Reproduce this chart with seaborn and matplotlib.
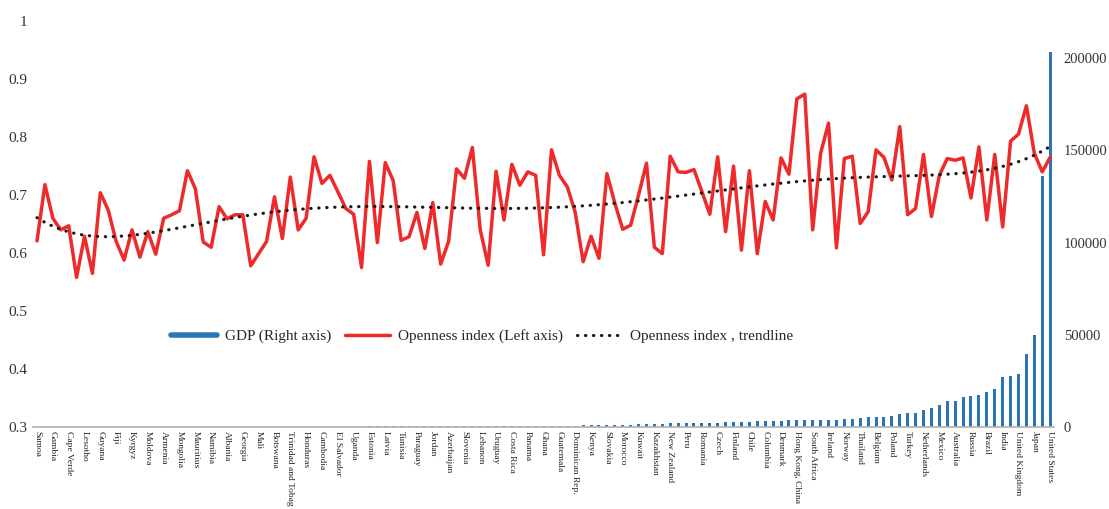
import numpy as np
import pandas as pd
import seaborn as sns
import matplotlib.pyplot as plt
from matplotlib.lines import Line2D
from matplotlib.ticker import FuncFormatter

# tick labels (every second country is labelled on the axis)
labelled = ['Samoa', 'Gambia', 'Cape Verde', 'Lesotho', 'Guyana', 'Fiji', 'Kyrgyz', 'Moldova',
            'Armenia', 'Mongolia', 'Mauritius', 'Namibia', 'Albania', 'Georgia', 'Mali', 'Botswana',
            'Trinidad and Tobag', 'Honduras', 'Cambodia', 'El Salvador', 'Uganda', 'Estonia', 'Latvia',
            'Tunisia', 'Paraguay', 'Jordan', 'Azerbaijan', 'Slovenia', 'Lebanon', 'Uruguay',
            'Costa Rica', 'Panama', 'Ghana', 'Guatemala', 'Dominican Rep.', 'Kenya', 'Slovakia',
            'Morocco', 'Kuwait', 'Kazakhstan', 'New Zealand', 'Peru', 'Romania', 'Czech', 'Finland',
            'Chile', 'Columbia', 'Denmark', 'Hong Kong, China', 'South Africa', 'Ireland', 'Norway',
            'Thailand', 'Belgium', 'Poland', 'Turkey', 'Netherlands', 'Mexico', 'Australia', 'Russia',
            'Brazil', 'India', 'United Kingdom', 'Japan', 'United States']

# openness index (left axis), one value per country
openness = [0.621, 0.718, 0.660, 0.640, 0.647, 0.558, 0.629, 0.565, 0.704, 0.674,
            0.620, 0.588, 0.640, 0.593, 0.637, 0.598, 0.660, 0.666, 0.673, 0.742,
            0.711, 0.619, 0.610, 0.680, 0.659, 0.666, 0.666, 0.578, 0.599, 0.620,
            0.697, 0.625, 0.731, 0.640, 0.660, 0.766, 0.720, 0.734, 0.706, 0.677,
            0.667, 0.575, 0.758, 0.618, 0.756, 0.725, 0.622, 0.628, 0.670, 0.608,
            0.687, 0.581, 0.620, 0.745, 0.729, 0.782, 0.640, 0.579, 0.741, 0.657,
            0.753, 0.717, 0.740, 0.734, 0.597, 0.778, 0.734, 0.714, 0.670, 0.585,
            0.629, 0.591, 0.737, 0.686, 0.641, 0.648, 0.700, 0.755, 0.610, 0.599,
            0.767, 0.740, 0.739, 0.744, 0.706, 0.667, 0.766, 0.637, 0.750, 0.605,
            0.742, 0.599, 0.689, 0.657, 0.764, 0.736, 0.866, 0.874, 0.640, 0.772,
            0.824, 0.609, 0.763, 0.767, 0.651, 0.671, 0.778, 0.765, 0.726, 0.818,
            0.666, 0.677, 0.770, 0.663, 0.734, 0.763, 0.760, 0.764, 0.695, 0.783,
            0.657, 0.770, 0.645, 0.793, 0.805, 0.854, 0.772, 0.740, 0.765]

# GDP (right axis)
gdp = [8, 12, 16, 18, 20, 24, 27, 32, 36, 47,
       55, 70, 81, 100, 114, 120, 125, 128, 130, 135,
       142, 140, 137, 148, 151, 155, 162, 167, 171, 180,
       186, 220, 237, 238, 240, 242, 245, 250, 260, 265,
       272, 290, 307, 330, 343, 370, 398, 400, 404, 415,
       422, 450, 470, 520, 542, 550, 566, 580, 596, 600,
       602, 620, 651, 652, 653, 700, 782, 800, 812, 850,
       879, 950, 1063, 1100, 1180, 1300, 1407, 1600, 1793, 1900,
       2050, 2150, 2225, 2300, 2399, 2420, 2449, 2500, 2755, 2900,
       2981, 3150, 3309, 3450, 3521, 3600, 3627, 3650, 3681, 3700,
       3822, 4000, 4343, 4550, 5050, 5190, 5430, 5560, 5860, 7060,
       7710, 7870, 9140, 10400, 12200, 14300, 14300, 16200, 16600, 17100,
       18900, 20700, 27000, 27800, 28600, 39500, 49700, 136000, 203000]

n = len(openness)
idx = np.arange(n)
df = pd.DataFrame({'idx': idx, 'openness': openness, 'gdp': gdp})
# 6th order polynomial trendline of the openness index
df['trend'] = np.polyval(np.polyfit(idx, df['openness'], 6), idx)

sns.set_style('white')
plt.rcParams['font.family'] = ['Liberation Serif', 'DejaVu Serif']

fig = plt.figure(figsize=(11.09, 5.09), dpi=100)
ax1 = fig.add_axes([0.0298, 0.161, 0.9207, 0.7976])
ax2 = ax1.twinx()

blue = '#2E75B6'
red = '#EE2A2A'
dots = (0, (0.1, 2.4))

sns.barplot(x='idx', y='gdp', data=df, color=blue, width=0.38, ax=ax2, saturation=1,
            linewidth=0)
sns.lineplot(x='idx', y='openness', data=df, color=red, lw=2.5, ax=ax1)
sns.lineplot(x='idx', y='trend', data=df, color='#1a1a1a', lw=2.3, ax=ax1)
ax1.lines[-1].set_linestyle(dots)
ax1.lines[-1].set_dash_capstyle('round')

ax1.set_zorder(ax2.get_zorder() + 1)
ax1.patch.set_visible(False)

ax1.set_xlim(-0.5, n - 0.5)
ax1.set_ylim(0.3, 1.0)
ax1.set_yticks(np.arange(0.3, 1.01, 0.1))
ax1.yaxis.set_major_formatter(FuncFormatter(lambda v, p: f'{v:g}'))
ax2.set_ylim(0, 220000)
ax2.set_yticks([0, 50000, 100000, 150000, 200000])
ax2.yaxis.set_major_formatter(FuncFormatter(lambda v, p: f'{int(v)}'))

ax1.set_xticks(idx[::2])
ax1.set_xticklabels(labelled, rotation=-90, va='top', ha='center')
for a in (ax1, ax2):
    a.set_xlabel('')
    a.set_ylabel('')
    a.tick_params(length=0, labelsize=11, colors='#333333')
    for s in a.spines.values():
        s.set_visible(False)
ax1.tick_params(axis='x', labelsize=6.8, pad=3, colors='#222222')
ax1.tick_params(axis='y', pad=4)
ax2.tick_params(axis='y', pad=7, labelsize=10.5)
ax1.spines['bottom'].set_visible(True)
ax1.spines['bottom'].set_color('#b0b0b0')
ax1.spines['bottom'].set_linewidth(1.2)

handles = [Line2D([], [], color=blue, lw=4),
           Line2D([], [], color=red, lw=2.5),
           Line2D([], [], color='#1a1a1a', lw=2.3, linestyle=dots, dash_capstyle='round')]
ax1.legend(handles, ['GDP (Right axis)', 'Openness index (Left axis)', 'Openness index , trendline'],
           loc='center', bbox_to_anchor=(0.44, 0.224), ncol=3, frameon=False, fontsize=11,
           handlelength=3.0, columnspacing=0.9, handletextpad=0.5)

fig.savefig('out.png', dpi=100)
